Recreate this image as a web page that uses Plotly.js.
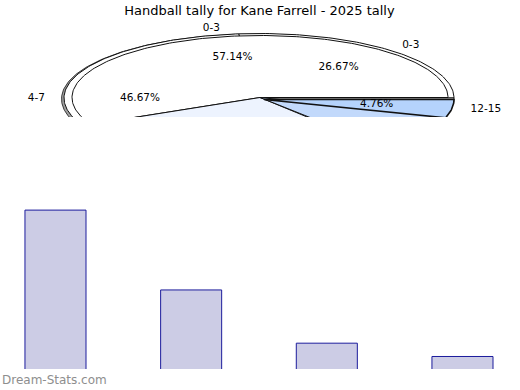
<!DOCTYPE html>
<html><head><meta charset="utf-8">
<script src="https://cdn.plot.ly/plotly-3.0.1.min.js"></script>
<style>html,body{margin:0;padding:0;background:#fff}#chart{width:520px;height:390px}</style>
</head><body><div id="chart"></div>
<script>
// ---- data ----
const categories = ['0-3', '4-7', '8-11', '12-15'];
const tallyValues = [12, 6, 2, 1];          // bars + front pie (57.14%, 4.76%)
const backPieValues = [4, 7, 4, 0];         // back pie (26.67%, 46.67%), rest estimated
const chartTitle = 'Handball tally for Kane Farrell - 2025 tally';
const watermark = 'Dream-Stats.com';

// ---- helpers ----
const PANEL_BOTTOM = 117;
function slicePath(cx, cy, a, b, a0, a1) {
  const xs = [cx], ys = [cy];
  const n = Math.max(2, Math.ceil(Math.abs(a1 - a0)));
  for (let i = 0; i <= n; i++) {
    const t = (a0 + (a1 - a0) * i / n) * Math.PI / 180;
    xs.push(cx + a * Math.cos(t)); ys.push(cy - b * Math.sin(t));
  }
  xs.push(cx); ys.push(cy);
  return {xs, ys};
}
function angles(vals) {
  const s = vals.reduce((p, c) => p + c, 0);
  let acc = 0;
  return vals.map(v => { const a0 = acc / s * 360; acc += v; return [a0, acc / s * 360, v / s * 100, v]; });
}
const traces = [];
function addSlice(p, fill, lw) {
  traces.push({type: 'scatter', mode: 'lines', x: p.xs, y: p.ys, fill: 'toself', fillcolor: fill,
    line: {color: '#111', width: lw}, xaxis: 'x2', yaxis: 'y2', hoverinfo: 'skip'});
}
const labX = [], labY = [], labT = [], labP = [];
function pushLabel(x, y, t, p) {
  if (y > PANEL_BOTTOM - 4) return;   // falls in the cut-off part of the pie
  labX.push(x); labY.push(y); labT.push(t); labP.push(p);
}
function addLabels(cx, cy, angs, names) {
  angs.forEach((g, i) => {
    if (g[3] <= 0) return;
    const m = (g[0] + g[1]) / 2 * Math.PI / 180, c = Math.cos(m), s = Math.sin(m);
    pushLabel(cx + 214 * c, cy - 72 * s, names[i],
      c > 0.3 ? 'middle right' : (c < -0.3 ? 'middle left' : 'middle center'));
    pushLabel(cx + 119 * c, cy - 42 * s, g[2].toFixed(2) + '%', 'middle center');
  });
}

// back pie (outer rim, with shaded side)
const backAngs = angles(backPieValues);
addSlice(slicePath(255.5, 99, 194, 65, 0, 360), '#a0a0a0', 0.8);
backAngs.forEach(g => { if (g[3] > 0) addSlice(slicePath(259, 98, 195, 64.5, g[0], g[1]), '#ffffff', 1); });
// front pie
const frontAngs = angles(tallyValues);
const frontFill = ['#ffffff', '#edf3fe', '#c2d9fb', '#b5d3fc'];
frontAngs.forEach((g, i) => {
  const ex = i === 3 ? 4 : 0, ey = i === 3 ? 2 : 0;
  addSlice(slicePath(260 + ex, 97.5 + ey, i === 3 ? 190 : 188, 62, g[0], g[1]), frontFill[i], i === 3 ? 1.6 : 1);
});
addLabels(259, 98.5, backAngs, categories);
addLabels(259, 98.5, frontAngs, categories);
traces.push({type: 'scatter', mode: 'text', x: labX, y: labY, text: labT, textposition: labP,
  textfont: {family: 'DejaVu Sans', size: 10.5, color: '#000'}, xaxis: 'x2', yaxis: 'y2',
  cliponaxis: true, hoverinfo: 'skip'});

// bars
traces.push({type: 'bar', x: categories, y: tallyValues, width: 0.45,
  marker: {color: '#ccccE5', line: {color: '#1c1c9c', width: 1}}, hoverinfo: 'skip'});

const hidden = {showgrid: false, zeroline: false, showline: false, showticklabels: false, ticks: ''};
const layout = {
  width: 520, height: 390, margin: {l: 0, r: 0, t: 0, b: 0},
  paper_bgcolor: '#fff', plot_bgcolor: 'rgba(0,0,0,0)', showlegend: false, hovermode: false,
  title: {text: chartTitle, x: 0.499, xanchor: 'center', y: 0.974, yanchor: 'middle',
    font: {family: 'DejaVu Sans', size: 13, color: '#000'}},
  xaxis: Object.assign({domain: [0, 1], range: [-0.409, 3.424], type: 'category'}, hidden),
  yaxis: Object.assign({domain: [1 - 369 / 390, 1 - 190 / 390], range: [0.06, 13.51]}, hidden),
  xaxis2: Object.assign({domain: [0, 1], range: [0, 520], anchor: 'y2'}, hidden),
  yaxis2: Object.assign({domain: [1 - PANEL_BOTTOM / 390, 1 - 20 / 390], range: [PANEL_BOTTOM, 20], anchor: 'x2'}, hidden),
  annotations: [{text: watermark, xref: 'paper', yref: 'paper', x: 0, y: 1 - 380 / 390,
    xanchor: 'left', yanchor: 'middle', showarrow: false,
    font: {family: 'DejaVu Sans', size: 12, color: '#8e8e8e'}}]
};
Plotly.newPlot('chart', traces, layout, {staticPlot: true, displayModeBar: false});
</script></body></html>
